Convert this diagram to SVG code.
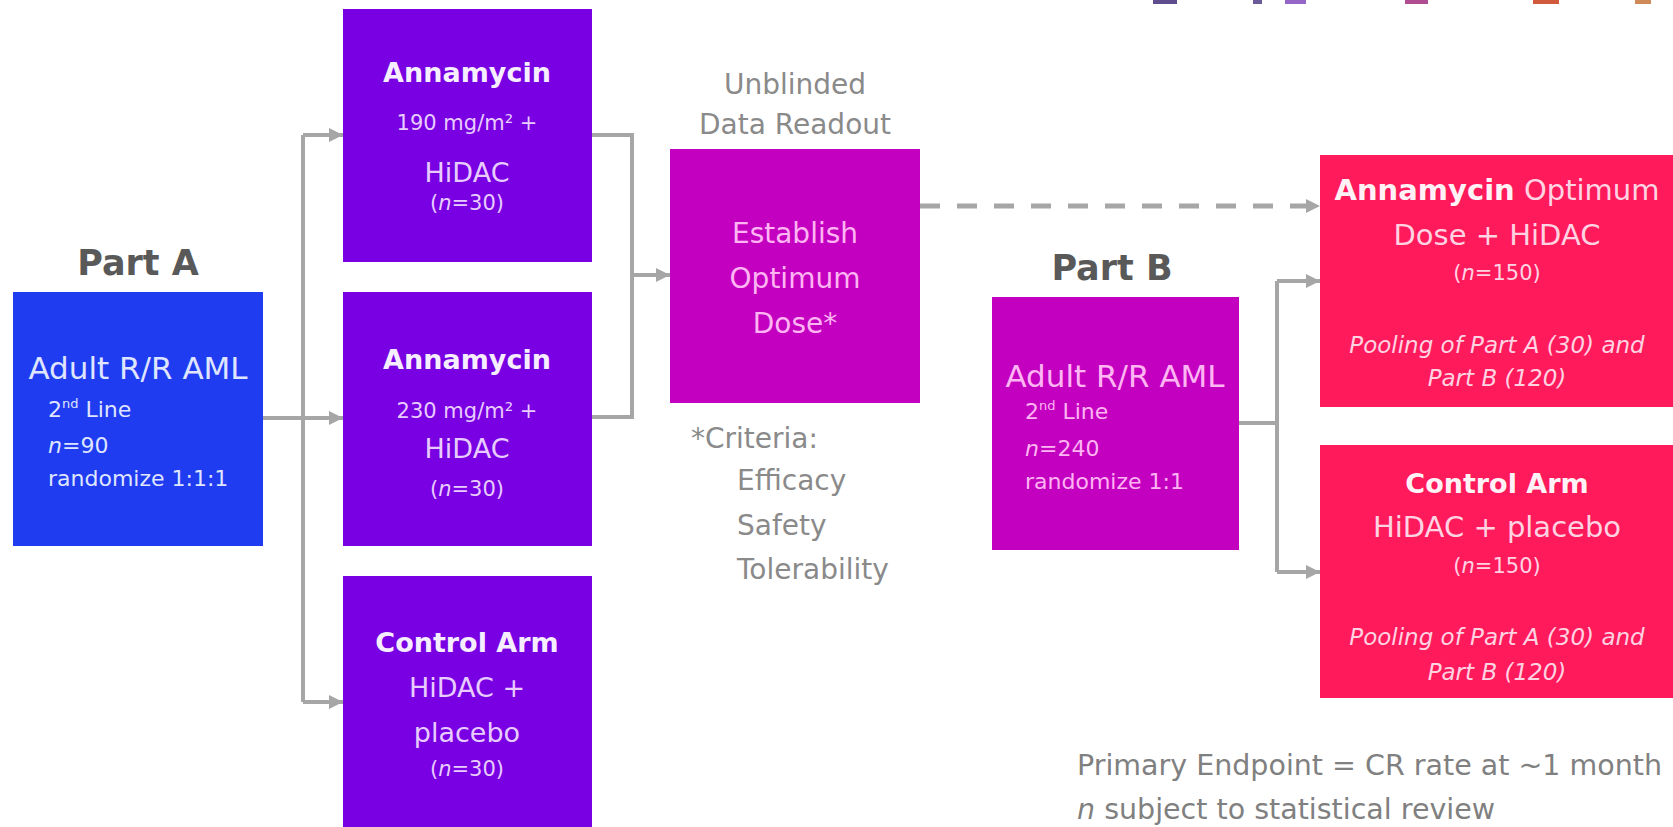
<svg xmlns="http://www.w3.org/2000/svg" width="1673" height="827" viewBox="0 0 1673 827">
<style>
text{font-family:"DejaVu Sans","Liberation Sans",sans-serif}
.title{font-size:35px;font-weight:bold;fill:#595959;text-anchor:middle}
.gray{font-size:28px;fill:#8a8a8a}
.note{font-size:28.5px;fill:#808080}
.c{text-anchor:middle}
.b{font-weight:bold}
.big{font-size:27px}
.rbig{font-size:29px}
.sm{font-size:22px}
.xs{font-size:21px}
.it{font-style:italic}
.wA{fill:#dfe5ff}
.wP{fill:#e8ccff}
.wPb{fill:#f6eeff}
.wM{fill:#ffb4f4}
.wR{fill:#ffd3e2}
.wRb{fill:#fff2f6}
.line{fill:none;stroke:#a6a6a6;stroke-width:4}
.arr{marker-end:url(#ah)}
.dash{fill:none;stroke:#a6a6a6;stroke-width:5;stroke-dasharray:20 17}
</style>
<defs>
<marker id="ah" viewBox="0 0 10 10" refX="10" refY="5" markerWidth="15" markerHeight="14" markerUnits="userSpaceOnUse" orient="auto">
<path d="M0,0 L10,5 L0,10 z" fill="#a6a6a6"/>
</marker>
</defs>
<rect width="1673" height="827" fill="#ffffff"/>

<g id="legend-strip">
<rect x="1153" y="0" width="24" height="4" fill="#5e4c8c"/>
<rect x="1253" y="0" width="9" height="4" fill="#6a5a9a"/>
<rect x="1285" y="0" width="21" height="4" fill="#9466c6"/>
<rect x="1405" y="0" width="23" height="4" fill="#b04c92"/>
<rect x="1533" y="0" width="26" height="4" fill="#d05a3c"/>
<rect x="1635" y="0" width="16" height="4" fill="#d08a5a"/>
</g>

<g id="connectors">
<path class="line" d="M263,418 H303"/>
<path class="line" d="M303,135 V702"/>
<path class="line arr" d="M303,135 H343"/>
<path class="line arr" d="M303,418 H343"/>
<path class="line arr" d="M303,702 H343"/>
<path class="line" d="M592,135 H632 V417 H592"/>
<path class="line arr" d="M632,275 H670"/>
<path class="dash arr" d="M920,206 H1320"/>
<path class="line" d="M1239,423 H1277"/>
<path class="line" d="M1277,281 V572"/>
<path class="line arr" d="M1277,281 H1320"/>
<path class="line arr" d="M1277,572 H1320"/>
</g>

<g id="partA">
<text class="title" x="138" y="275">Part A</text>
<rect x="13" y="292" width="250" height="254" fill="#1f3cf0"/>
<text class="wA c" x="138" y="379" font-size="31">Adult R/R AML</text>
<text class="wA sm" x="48" y="417">2<tspan font-size="13" dy="-9">nd</tspan><tspan dy="9"> Line</tspan></text>
<text class="wA sm" x="48" y="453"><tspan class="it">n</tspan>=90</text>
<text class="wA sm" x="48" y="486">randomize 1:1:1</text>
</g>

<g id="armA1">
<rect x="343" y="9" width="249" height="253" fill="#7800e2"/>
<text class="wPb b big c" x="467" y="82">Annamycin</text>
<text class="wP xs c" x="467" y="130">190 mg/m² +</text>
<text class="wP big c" x="467" y="182">HiDAC</text>
<text class="wP xs c" x="467" y="210">(<tspan class="it">n</tspan>=30)</text>
</g>

<g id="armA2">
<rect x="343" y="292" width="249" height="254" fill="#7800e2"/>
<text class="wPb b big c" x="467" y="369">Annamycin</text>
<text class="wP xs c" x="467" y="418">230 mg/m² +</text>
<text class="wP big c" x="467" y="458">HiDAC</text>
<text class="wP xs c" x="467" y="496">(<tspan class="it">n</tspan>=30)</text>
</g>

<g id="armA3">
<rect x="343" y="576" width="249" height="260" fill="#7800e2"/>
<text class="wPb b big c" x="467" y="652">Control Arm</text>
<text class="wP big c" x="467" y="697">HiDAC +</text>
<text class="wP big c" x="467" y="742">placebo</text>
<text class="wP xs c" x="467" y="776">(<tspan class="it">n</tspan>=30)</text>
</g>

<g id="readout">
<text class="gray c" x="795" y="94" font-size="25">Unblinded</text>
<text class="gray c" x="795" y="134" font-size="25">Data Readout</text>
<rect x="670" y="149" width="250" height="254" fill="#c300bf"/>
<text class="wM c" x="795" y="243" font-size="28">Establish</text>
<text class="wM c" x="795" y="288" font-size="28">Optimum</text>
<text class="wM c" x="795" y="333" font-size="28">Dose*</text>
<text class="gray" x="691" y="448" font-size="27">*Criteria:</text>
<text class="gray" x="737" y="490">Efficacy</text>
<text class="gray" x="737" y="535">Safety</text>
<text class="gray" x="737" y="579">Tolerability</text>
</g>

<g id="partB">
<text class="title" x="1112" y="280">Part B</text>
<rect x="992" y="297" width="247" height="253" fill="#c300bf"/>
<text class="wM c" x="1115" y="387" font-size="31">Adult R/R AML</text>
<text class="wM sm" x="1025" y="419">2<tspan font-size="13" dy="-9">nd</tspan><tspan dy="9"> Line</tspan></text>
<text class="wM sm" x="1025" y="456"><tspan class="it">n</tspan>=240</text>
<text class="wM sm" x="1025" y="489">randomize 1:1</text>
</g>

<g id="armB1">
<rect x="1320" y="155" width="365" height="252" fill="#ff1a5c"/>
<text class="wR rbig c" x="1497" y="200"><tspan class="wRb b">Annamycin</tspan> Optimum</text>
<text class="wR rbig c" x="1497" y="245">Dose + HiDAC</text>
<text class="wR xs c" x="1497" y="280">(<tspan class="it">n</tspan>=150)</text>
<text class="wR it c" x="1497" y="353" font-size="23">Pooling of Part A (30) and</text>
<text class="wR it c" x="1497" y="386" font-size="23">Part B (120)</text>
</g>

<g id="armB2">
<rect x="1320" y="445" width="365" height="253" fill="#ff1a5c"/>
<text class="wRb b big c" x="1497" y="493">Control Arm</text>
<text class="wR rbig c" x="1497" y="537">HiDAC + placebo</text>
<text class="wR xs c" x="1497" y="573">(<tspan class="it">n</tspan>=150)</text>
<text class="wR it c" x="1497" y="645" font-size="23">Pooling of Part A (30) and</text>
<text class="wR it c" x="1497" y="680" font-size="23">Part B (120)</text>
</g>

<g id="notes">
<text class="note" x="1077" y="775">Primary Endpoint = CR rate at ~1 month</text>
<text class="note" x="1077" y="819"><tspan class="it">n</tspan> subject to statistical review</text>
</g>
</svg>
